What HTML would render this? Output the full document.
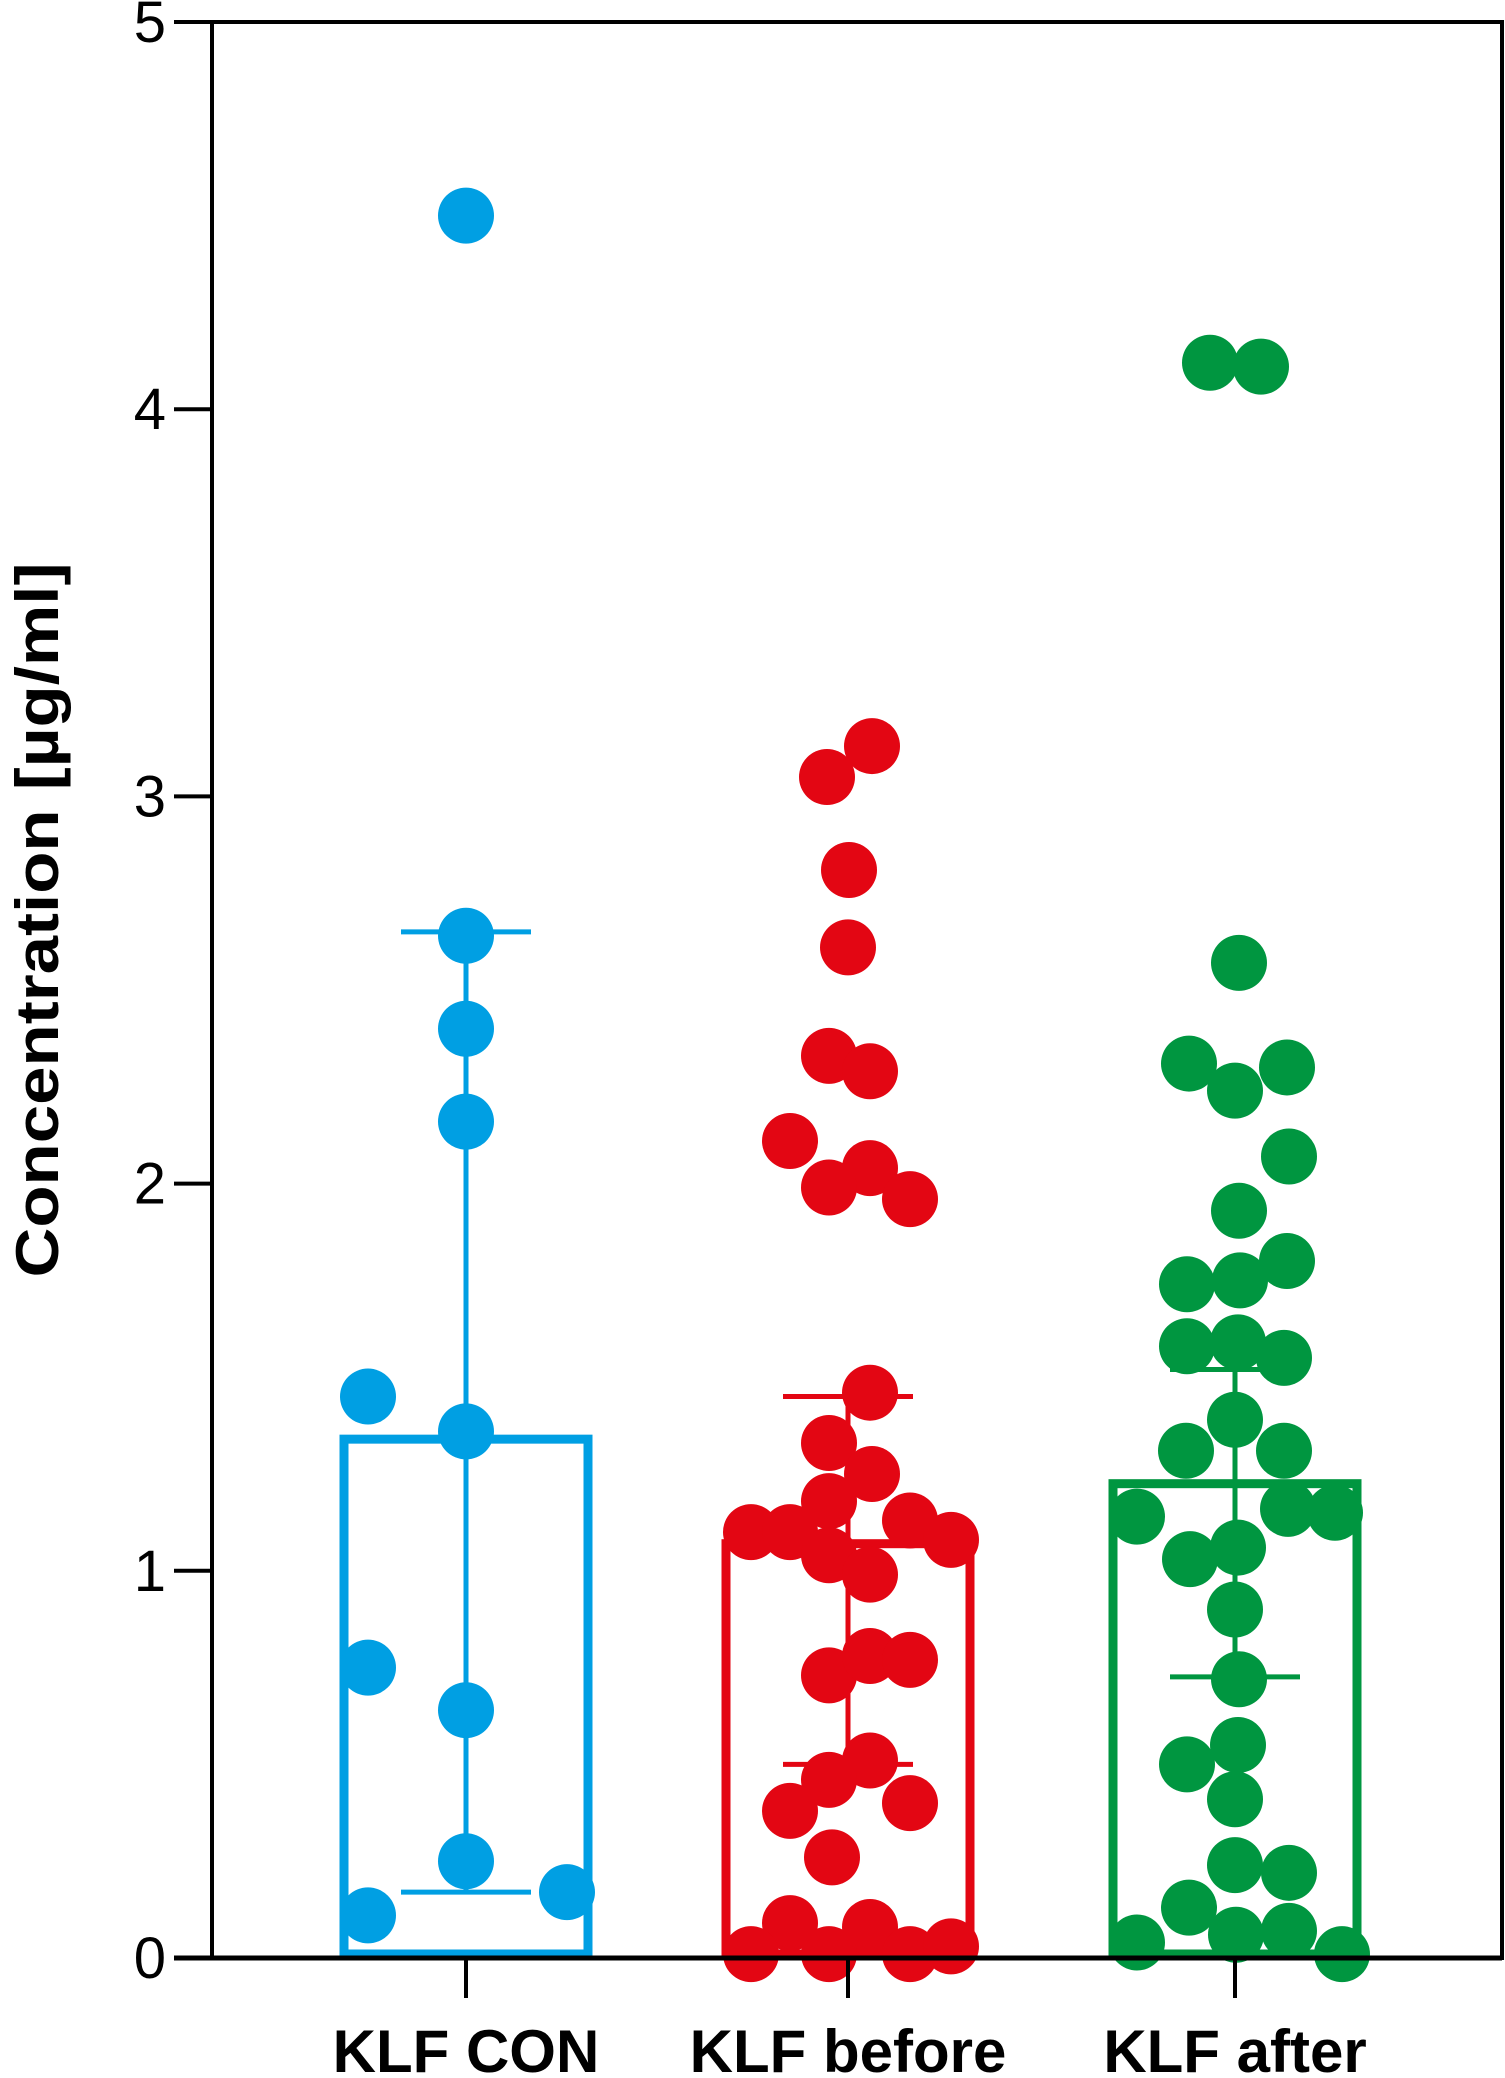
<!DOCTYPE html>
<html><head><meta charset="utf-8"><style>html,body{margin:0;padding:0;background:#fff}svg{display:block}</style></head>
<body>
<svg id="chart" width="1505" height="2078" viewBox="0 0 1505 2078" xmlns="http://www.w3.org/2000/svg">
<g id="frame"></g>
<g id="bars"></g>
<g id="dots"></g>
<g id="axes"></g>
<text transform="translate(58,920) rotate(-90)" text-anchor="middle" font-family="Liberation Sans, sans-serif" font-weight="bold" font-size="60" textLength="715" lengthAdjust="spacingAndGlyphs">Concentration [µg/ml]</text>
</svg>
<script>
const categories = ["KLF CON", "KLF before", "KLF after"];
const colors = ["#009FE3", "#E30613", "#009640"];
const barValues = [1.34, 1.07, 1.225];
const errUpper = [2.65, 1.45, 1.52];
const errLower = [0.17, 0.50, 0.726];
const yTicks = [0, 1, 2, 3, 4, 5];
const conValues = [4.50, 2.64, 2.40, 2.16, 1.45, 1.36, 0.75, 0.64, 0.25, 0.17, 0.11];
const conJitter = [0, 0, 0, 0, -98, 0, -98, 0, 0, 101, -98];
const beforeValues = [3.13, 3.05, 2.81, 2.61, 2.33, 2.29, 2.11, 2.04, 1.99, 1.96, 1.46, 1.33, 1.25, 1.18, 1.10, 1.10, 1.13, 1.08, 1.04, 0.99, 0.73, 0.78, 0.77, 0.51, 0.46, 0.38, 0.40, 0.26, 0.09, 0.08, 0.01, 0.01, 0.01, 0.03];
const beforeJitter = [24, -21, 1, 0, -19, 22, -58, 22, -19, 62, 22, -19, 24, -19, -97, -58, 62, 103, -19, 22, -19, 22, 62, 22, -19, -58, 62, -16, -58, 22, -97, -19, 62, 103];
const afterValues = [4.12, 4.11, 2.57, 2.31, 2.24, 2.30, 2.07, 1.93, 1.74, 1.75, 1.80, 1.58, 1.59, 1.55, 1.39, 1.31, 1.31, 1.14, 1.16, 1.15, 1.03, 1.06, 0.90, 0.72, 0.55, 0.50, 0.41, 0.24, 0.22, 0.13, 0.04, 0.06, 0.07, 0.01];
const afterJitter = [-25, 26, 4, -46, 0, 52, 54, 4, -48, 5, 52, -48, 3, 49, 0, -49, 49, -98, 53, 100, -45, 3, 0, 4, 3, -48, 0, 0, 54, -46, -98, 1, 54, 107];

const NS = "http://www.w3.org/2000/svg";
const X0 = 212, X1 = 1502, Y0 = 1958, Y1 = 22, VMAX = 5;
const catX = [466, 848, 1235];
const barHalf = 122, capHalf = 65, R = 28;
function yScale(v){ return Y0 - (v / VMAX) * (Y0 - Y1); }
function xScale(i){ return catX[i]; }
function mk(tag, attrs, parent){ const e = document.createElementNS(NS, tag); for (const k in attrs) e.setAttribute(k, attrs[k]); parent.appendChild(e); return e; }

const frame = document.getElementById('frame');
let fr = mk('rect', {x:X0, y:Y1, width:X1-X0, height:Y0-Y1, fill:'none', stroke:'#000', 'stroke-width':4}, frame);



const barsG = document.getElementById('bars');
categories.forEach((c, i) => {
  const cx = xScale(i), col = colors[i];
  const g = mk('g', {}, barsG);
  
  
  const yb = yScale(barValues[i]);
  const b = mk('rect', {x:cx-barHalf, y:yb, width:barHalf*2, height:Y0-yb-4, fill:'none', stroke:col, 'stroke-width':9}, g);
  
  
  const l = mk('line', {x1:cx, x2:cx, y1:yScale(errUpper[i]), y2:yScale(errLower[i]), stroke:col, 'stroke-width':5}, g);
  
  
  [errUpper[i], errLower[i]].forEach(v => {
    const cap = mk('line', {x1:cx-capHalf, x2:cx+capHalf, y1:yScale(v), y2:yScale(v), stroke:col, 'stroke-width':5}, g);
    
    
  });
});

const dotsG = document.getElementById('dots');
const series = [[conValues, conJitter], [beforeValues, beforeJitter], [afterValues, afterJitter]];
series.forEach((s, i) => {
  s[0].forEach((v, j) => {
    const c = mk('circle', {cx:xScale(i)+s[1][j], cy:yScale(v), r:R, fill:colors[i]}, dotsG);
    
    
  });
});

const axes = document.getElementById('axes');
let bl = mk('line', {x1:X0-38, x2:X1, y1:Y0, y2:Y0, stroke:'#000', 'stroke-width':5}, axes);


yTicks.forEach(t => {
  const y = yScale(t);
  const tk = mk('line', {x1:X0-38, x2:X0, y1:y, y2:y, stroke:'#000', 'stroke-width':4}, axes);
  
  
  const tx = mk('text', {x:166, y:y+20, 'text-anchor':'end', 'font-family':'Liberation Sans, sans-serif', 'font-size':58}, axes);
  tx.textContent = t;
  
  
});
categories.forEach((c, i) => {
  const x = xScale(i);
  const tk = mk('line', {x1:x, x2:x, y1:Y0, y2:Y0+40, stroke:'#000', 'stroke-width':4}, axes);
  
  
  const tx = mk('text', {x:x, y:2072, 'text-anchor':'middle', 'font-family':'Liberation Sans, sans-serif', 'font-weight':'bold', 'font-size':60}, axes);
  tx.textContent = c;
  
  
});
</script>
</body></html>
